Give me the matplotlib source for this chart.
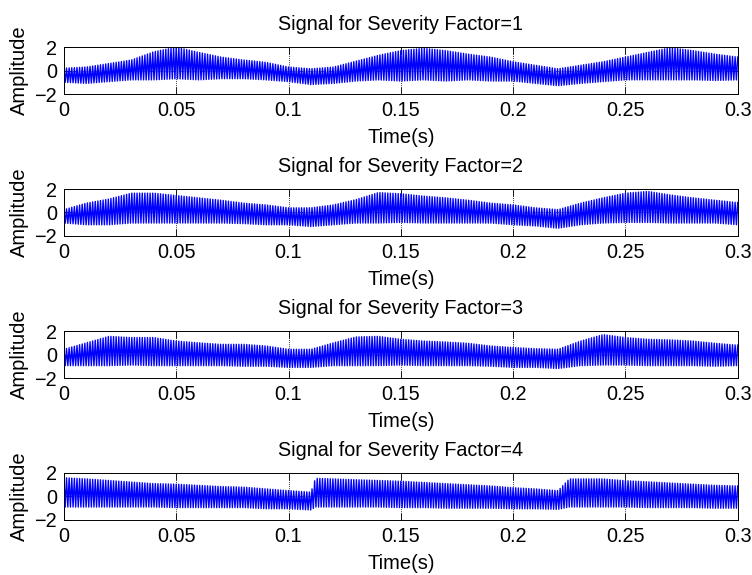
import numpy as np
import matplotlib
matplotlib.use('Agg')
import matplotlib.pyplot as plt

# envelope of each signal (upper / lower extremes)
t_env = [0.00, 0.01, 0.02, 0.03, 0.04, 0.05, 0.06, 0.07, 0.08, 0.09, 0.10,
         0.11, 0.12, 0.13, 0.14, 0.15, 0.16, 0.17, 0.18, 0.19, 0.20,
         0.21, 0.22, 0.23, 0.24, 0.25, 0.26, 0.27, 0.28, 0.29, 0.30]

sf1_upper = [0.2, 0.3, 0.6, 0.9, 1.6, 2.0, 1.55, 1.15, 0.9, 0.7, 0.3,
             0.15, 0.3, 0.8, 1.3, 1.7, 1.9, 1.7, 1.4, 1.15, 0.75,
             0.45, 0.15, 0.45, 0.75, 1.15, 1.55, 1.95, 1.7, 1.4, 1.15]
sf1_lower = [-1.0, -1.1, -0.95, -0.8, -0.8, -0.7, -0.8, -0.7, -0.7, -0.8, -0.95,
             -1.2, -1.1, -0.9, -0.8, -0.9, -0.8, -0.9, -0.8, -0.9, -0.9,
             -1.1, -1.3, -1.1, -0.95, -0.8, -0.8, -0.8, -0.8, -0.85, -0.8]

sf2_upper = [0.25, 0.8, 1.15, 1.65, 1.65, 1.45, 1.25, 1.05, 0.8, 0.65, 0.4,
             0.4, 0.65, 1.1, 1.7, 1.6, 1.4, 1.25, 1.05, 0.8, 0.65,
             0.4, 0.25, 0.8, 1.25, 1.65, 1.8, 1.5, 1.25, 1.05, 0.85]
sf2_lower = [-0.9, -1.05, -1.05, -0.9, -0.9, -0.9, -0.9, -0.9, -0.95, -1.05, -1.05,
             -1.2, -1.05, -0.9, -0.9, -0.85, -0.9, -0.9, -0.9, -0.9, -1.05,
             -1.15, -1.35, -1.05, -0.9, -0.85, -0.85, -0.9, -0.9, -0.9, -1.05]

sf3_upper = [0.45, 1.0, 1.55, 1.45, 1.45, 1.15, 1.0, 0.87, 0.87, 0.73, 0.45,
             0.45, 1.0, 1.5, 1.55, 1.3, 1.15, 1.07, 0.96, 0.73, 0.6,
             0.5, 0.45, 1.15, 1.7, 1.45, 1.3, 1.25, 1.15, 0.96, 0.8]
sf3_lower = [-0.95, -0.95, -0.95, -0.9, -0.95, -0.95, -0.95, -0.95, -1.0, -1.0, -1.1,
             -1.1, -0.95, -0.95, -0.95, -0.9, -0.95, -0.95, -0.95, -1.0, -1.1,
             -1.1, -1.2, -0.95, -0.9, -0.9, -0.95, -0.95, -0.95, -1.0, -0.95]

# severity 4 has two sudden jumps, so it gets its own time points
t_env4 = [0.00, 0.01, 0.02, 0.03, 0.04, 0.05, 0.06, 0.07, 0.08, 0.09, 0.10, 0.11,
          0.112, 0.12, 0.13, 0.14, 0.15, 0.16, 0.17, 0.18, 0.19, 0.20, 0.21, 0.22,
          0.225, 0.23, 0.24, 0.25, 0.26, 0.27, 0.28, 0.29, 0.30]
sf4_upper = [1.6, 1.5, 1.37, 1.23, 1.1, 1.05, 0.95, 0.85, 0.8, 0.65, 0.5, 0.37,
             1.55, 1.5, 1.43, 1.37, 1.3, 1.2, 1.1, 1.0, 0.9, 0.75, 0.65, 0.5,
             1.5, 1.5, 1.5, 1.35, 1.25, 1.15, 1.05, 0.95, 0.9]
sf4_lower = [-0.9, -0.9, -0.9, -0.9, -0.9, -0.95, -0.95, -0.95, -0.95, -1.05, -1.05, -1.15,
             -0.9, -0.9, -0.9, -0.9, -0.95, -0.95, -1.0, -1.0, -1.0, -1.05, -1.05, -1.1,
             -0.9, -0.9, -0.9, -0.9, -0.95, -0.95, -0.95, -1.0, -1.0]

carrier_hz = 860  # counted stripes in the picture

titles = ['Signal for Severity Factor=1', 'Signal for Severity Factor=2',
          'Signal for Severity Factor=3', 'Signal for Severity Factor=4']
xticks = [0, 0.05, 0.1, 0.15, 0.2, 0.25, 0.3]
xticklabels = ['0', '0.05', '0.1', '0.15', '0.2', '0.25', '0.3']
yticks = [-2, 0, 2]

signals = [(t_env, sf1_upper, sf1_lower),
           (t_env, sf2_upper, sf2_lower),
           (t_env, sf3_upper, sf3_lower),
           (t_env4, sf4_upper, sf4_lower)]

plt.rcParams['font.family'] = ['Liberation Sans', 'DejaVu Sans']
plt.rcParams['font.size'] = 14

fig = plt.figure(figsize=(7.52, 5.75), dpi=100)
bottoms = [0.8365, 0.5896, 0.3426, 0.0957]

for i, (te, up, lo) in enumerate(signals):
    ax = fig.add_axes([0.085, bottoms[i], 0.896, 0.0817])

    # zigzag between the read extremes at the carrier rate
    tv = np.arange(0, 0.3 + 1e-9, 0.5 / carrier_hz)
    u = np.interp(tv, te, up)
    l = np.interp(tv, te, lo)
    y = np.where(np.arange(len(tv)) % 2 == 0, u, l)
    ax.plot(tv, y, color='#0000ff', lw=1.0)

    ax.set_xlim(0, 0.3)
    ax.set_ylim(-2, 2)
    ax.set_xticks(xticks)
    ax.set_xticklabels(xticklabels)
    ax.set_yticks(yticks)
    ax.grid(True, color='k', linestyle=(0, (1.5, 1.5)), linewidth=0.5)
    ax.tick_params(direction='in', length=5, width=0.6, top=True, right=True,
                   pad=5, labelsize=14.3)
    for s in ax.spines.values():
        s.set_linewidth(0.7)
    ax.set_title(titles[i], pad=12.5, fontsize=14.2)
    ax.set_xlabel('Time(s)', labelpad=6, fontsize=14.5)
    ax.set_ylabel('Amplitude', labelpad=4, fontsize=14.5)

fig.savefig('out.png', dpi=100)
